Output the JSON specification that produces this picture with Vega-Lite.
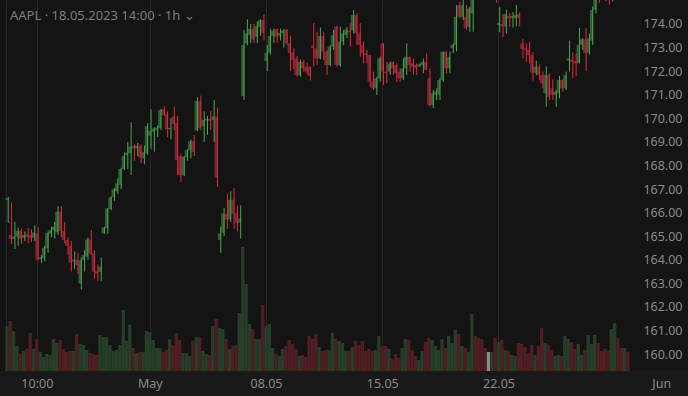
{
  "$schema": "https://vega.github.io/schema/vega-lite/v6.json",
  "width": 688,
  "height": 371,
  "autosize": {"type": "none"},
  "padding": {"left": 0, "top": 0, "right": 0, "bottom": 25},
  "background": "#191919",
  "title": {"text": "AAPL · 18.05.2023 14:00 · 1h ⌄", "anchor": "start", "orient": "top", "offset": -29, "dx": 10, "color": "#7c7c7c", "fontSize": 13, "fontWeight": "normal", "font": "Noto Sans", "baseline": "middle"},
  "config": {"view": {"stroke": null, "fill": "#141414"}, "axis": {"labelOverlap": false}, "axisY": {"labelOverlap": false}},
  "data": {"values": [
    {"k":1,"o":166.53,"h":166.67,"l":165.56,"c":166.62,"v":4.5},
    {"k":2,"o":165.05,"h":166.43,"l":164.67,"c":164.88,"v":5.0},
    {"k":3,"o":164.89,"h":165.61,"l":164.45,"c":164.99,"v":4.0},
    {"k":4,"o":164.98,"h":165.36,"l":164.6,"c":165.22,"v":2.5},
    {"k":5,"o":165.22,"h":165.33,"l":164.67,"c":164.88,"v":1.7},
    {"k":6,"o":164.93,"h":165.2,"l":164.8,"c":165.05,"v":2.0},
    {"k":7,"o":165.08,"h":165.35,"l":164.7,"c":164.96,"v":2.2},
    {"k":8,"o":165.05,"h":165.3,"l":164.75,"c":164.93,"v":3.8},
    {"k":9,"o":164.93,"h":165.45,"l":164.8,"c":165.15,"v":2.2},
    {"k":10,"o":165.12,"h":165.37,"l":163.96,"c":163.99,"v":3.2},
    {"k":11,"o":164.03,"h":164.2,"l":163.85,"c":164.1,"v":1.9},
    {"k":12,"o":164.06,"h":164.6,"l":163.93,"c":164.51,"v":1.4},
    {"k":13,"o":164.48,"h":165.2,"l":164.3,"c":165.14,"v":1.7},
    {"k":14,"o":165.1,"h":165.4,"l":164.95,"c":165.26,"v":1.6},
    {"k":15,"o":165.25,"h":165.6,"l":164.9,"c":165.4,"v":3.2},
    {"k":16,"o":165.16,"h":166.27,"l":165.05,"c":166.04,"v":2.8},
    {"k":17,"o":166.04,"h":166.27,"l":164.95,"c":165.22,"v":3.1},
    {"k":18,"o":165.22,"h":165.6,"l":164.7,"c":164.84,"v":2.2},
    {"k":19,"o":164.84,"h":164.95,"l":164.2,"c":164.59,"v":1.9},
    {"k":20,"o":164.59,"h":164.8,"l":163.5,"c":163.87,"v":2.0},
    {"k":21,"o":163.93,"h":164.35,"l":163.6,"c":164.0,"v":2.0},
    {"k":22,"o":164.0,"h":164.3,"l":163.4,"c":163.77,"v":3.7},
    {"k":23,"o":162.99,"h":164.1,"l":162.74,"c":163.98,"v":2.7},
    {"k":24,"o":163.98,"h":164.4,"l":163.5,"c":164.2,"v":2.6},
    {"k":25,"o":164.13,"h":164.95,"l":164.0,"c":164.86,"v":2.1},
    {"k":26,"o":164.86,"h":165.26,"l":164.2,"c":164.27,"v":1.8},
    {"k":27,"o":164.27,"h":164.4,"l":163.2,"c":163.49,"v":1.7},
    {"k":28,"o":163.52,"h":163.8,"l":163.1,"c":163.42,"v":1.6},
    {"k":29,"o":163.49,"h":164.1,"l":163.1,"c":163.7,"v":3.6},
    {"k":30,"o":165.12,"h":165.4,"l":165.1,"c":165.38,"v":3.4},
    {"k":31,"o":165.33,"h":166.2,"l":165.1,"c":166.18,"v":3.4},
    {"k":32,"o":166.15,"h":166.7,"l":166.1,"c":166.65,"v":2.6},
    {"k":33,"o":166.65,"h":167.05,"l":166.5,"c":166.99,"v":2.0},
    {"k":34,"o":166.9,"h":167.45,"l":166.8,"c":167.24,"v":2.1},
    {"k":35,"o":167.17,"h":167.9,"l":167.0,"c":167.85,"v":2.6},
    {"k":36,"o":167.85,"h":168.55,"l":167.8,"c":168.4,"v":6.1},
    {"k":37,"o":168.44,"h":169.0,"l":167.85,"c":168.54,"v":3.0},
    {"k":38,"o":168.52,"h":169.83,"l":167.59,"c":168.8,"v":4.6},
    {"k":39,"o":168.83,"h":168.9,"l":168.2,"c":168.72,"v":2.3},
    {"k":40,"o":168.72,"h":168.95,"l":168.4,"c":168.83,"v":1.8},
    {"k":41,"o":168.83,"h":168.9,"l":168.1,"c":168.33,"v":1.9},
    {"k":42,"o":168.3,"h":168.85,"l":168.05,"c":168.56,"v":1.9},
    {"k":43,"o":168.51,"h":169.8,"l":168.45,"c":169.67,"v":4.0},
    {"k":44,"o":169.26,"h":170.38,"l":168.7,"c":169.47,"v":3.9},
    {"k":45,"o":169.43,"h":169.62,"l":168.58,"c":169.57,"v":3.1},
    {"k":46,"o":169.5,"h":169.7,"l":169.2,"c":169.6,"v":2.3},
    {"k":47,"o":169.58,"h":170.4,"l":169.5,"c":170.35,"v":2.3},
    {"k":48,"o":170.38,"h":170.5,"l":170.1,"c":170.14,"v":1.9},
    {"k":49,"o":170.17,"h":170.3,"l":169.2,"c":169.53,"v":2.1},
    {"k":50,"o":169.53,"h":170.0,"l":169.1,"c":169.6,"v":3.2},
    {"k":51,"o":170.07,"h":170.5,"l":169.5,"c":169.76,"v":2.6},
    {"k":52,"o":169.8,"h":170.1,"l":167.6,"c":168.23,"v":3.8},
    {"k":53,"o":168.4,"h":168.5,"l":167.3,"c":167.59,"v":3.1},
    {"k":54,"o":167.59,"h":168.4,"l":167.55,"c":168.37,"v":1.8},
    {"k":55,"o":168.35,"h":168.7,"l":168.2,"c":168.65,"v":1.8},
    {"k":56,"o":168.65,"h":169.1,"l":168.3,"c":169.03,"v":1.5},
    {"k":57,"o":169.03,"h":169.3,"l":168.4,"c":168.56,"v":3.0},
    {"k":58,"o":169.49,"h":170.9,"l":169.45,"c":170.74,"v":3.4},
    {"k":59,"o":170.74,"h":170.96,"l":169.5,"c":169.57,"v":3.4},
    {"k":60,"o":169.66,"h":170.3,"l":169.0,"c":169.93,"v":2.0},
    {"k":61,"o":169.9,"h":170.1,"l":169.3,"c":169.98,"v":1.7},
    {"k":62,"o":169.98,"h":170.3,"l":169.5,"c":169.9,"v":1.6},
    {"k":63,"o":169.93,"h":170.78,"l":169.0,"c":170.07,"v":4.5},
    {"k":64,"o":170.07,"h":170.46,"l":167.1,"c":167.49,"v":5.2},
    {"k":65,"o":164.84,"h":165.4,"l":164.29,"c":165.12,"v":4.3},
    {"k":66,"o":165.14,"h":166.2,"l":165.0,"c":165.97,"v":4.2},
    {"k":67,"o":165.95,"h":166.8,"l":165.3,"c":165.7,"v":3.2},
    {"k":68,"o":165.7,"h":166.9,"l":165.6,"c":166.55,"v":2.2},
    {"k":69,"o":166.55,"h":167.04,"l":165.3,"c":165.95,"v":2.5},
    {"k":70,"o":165.97,"h":166.3,"l":165.2,"c":165.57,"v":2.6},
    {"k":71,"o":165.57,"h":166.3,"l":164.9,"c":165.75,"v":5.8},
    {"k":72,"o":170.94,"h":173.75,"l":170.78,"c":173.11,"v":12.4},
    {"k":73,"o":173.18,"h":174.2,"l":173.1,"c":173.6,"v":8.7},
    {"k":74,"o":173.53,"h":174.0,"l":173.2,"c":173.79,"v":4.7},
    {"k":75,"o":173.79,"h":174.0,"l":173.2,"c":173.35,"v":4.2},
    {"k":76,"o":173.46,"h":174.1,"l":173.2,"c":173.9,"v":3.2},
    {"k":77,"o":173.88,"h":174.2,"l":173.5,"c":174.17,"v":3.2},
    {"k":78,"o":174.17,"h":174.4,"l":173.3,"c":173.63,"v":6.6},
    {"k":79,"o":172.43,"h":173.1,"l":172.0,"c":172.78,"v":4.5},
    {"k":80,"o":172.78,"h":173.8,"l":172.7,"c":173.49,"v":4.7},
    {"k":81,"o":173.5,"h":173.8,"l":173.2,"c":173.7,"v":2.3},
    {"k":82,"o":173.78,"h":173.8,"l":173.2,"c":173.46,"v":1.7},
    {"k":83,"o":173.5,"h":173.8,"l":173.3,"c":173.62,"v":1.5},
    {"k":84,"o":173.62,"h":173.78,"l":173.0,"c":173.72,"v":2.2},
    {"k":85,"o":173.77,"h":173.78,"l":173.1,"c":173.18,"v":2.5},
    {"k":86,"o":173.18,"h":173.5,"l":172.0,"c":172.76,"v":3.1},
    {"k":87,"o":172.8,"h":172.97,"l":172.1,"c":172.47,"v":2.7},
    {"k":88,"o":172.54,"h":172.65,"l":171.76,"c":171.83,"v":2.2},
    {"k":89,"o":171.83,"h":172.5,"l":171.76,"c":172.4,"v":1.5},
    {"k":90,"o":172.4,"h":172.47,"l":171.97,"c":172.12,"v":1.6},
    {"k":91,"o":172.2,"h":172.36,"l":171.88,"c":172.0,"v":1.4},
    {"k":92,"o":172.19,"h":172.19,"l":171.6,"c":171.8,"v":3.5},
    {"k":93,"o":173.08,"h":174.04,"l":172.2,"c":172.98,"v":3.2},
    {"k":94,"o":172.97,"h":173.67,"l":172.26,"c":172.54,"v":3.7},
    {"k":95,"o":172.54,"h":173.85,"l":172.5,"c":173.49,"v":2.4},
    {"k":96,"o":173.49,"h":173.67,"l":172.47,"c":172.83,"v":2.0},
    {"k":97,"o":172.83,"h":172.9,"l":171.84,"c":172.26,"v":2.1},
    {"k":98,"o":172.26,"h":173.1,"l":172.2,"c":173.04,"v":2.1},
    {"k":99,"o":173.04,"h":173.75,"l":172.9,"c":173.53,"v":3.8},
    {"k":100,"o":173.89,"h":173.92,"l":172.19,"c":172.26,"v":3.2},
    {"k":101,"o":172.26,"h":173.89,"l":172.19,"c":173.25,"v":3.0},
    {"k":102,"o":173.25,"h":173.75,"l":173.1,"c":173.6,"v":2.8},
    {"k":103,"o":173.53,"h":173.87,"l":173.4,"c":173.77,"v":2.0},
    {"k":104,"o":173.72,"h":174.03,"l":173.04,"c":173.65,"v":2.0},
    {"k":105,"o":173.74,"h":174.6,"l":173.6,"c":174.38,"v":2.4},
    {"k":106,"o":174.38,"h":174.45,"l":173.11,"c":173.6,"v":3.0},
    {"k":107,"o":173.6,"h":174.03,"l":172.61,"c":173.11,"v":2.6},
    {"k":108,"o":173.11,"h":173.25,"l":172.33,"c":172.76,"v":3.0},
    {"k":109,"o":172.76,"h":172.9,"l":172.33,"c":172.68,"v":2.0},
    {"k":110,"o":172.68,"h":172.68,"l":171.34,"c":171.55,"v":2.2},
    {"k":111,"o":171.55,"h":171.98,"l":171.2,"c":171.27,"v":2.0},
    {"k":112,"o":171.27,"h":171.76,"l":170.99,"c":171.69,"v":2.1},
    {"k":113,"o":171.69,"h":172.61,"l":171.55,"c":172.54,"v":3.5},
    {"k":114,"o":173.18,"h":173.18,"l":171.41,"c":171.98,"v":2.5},
    {"k":115,"o":171.98,"h":172.4,"l":171.48,"c":171.91,"v":2.5},
    {"k":116,"o":171.98,"h":172.4,"l":171.84,"c":172.33,"v":2.2},
    {"k":117,"o":172.4,"h":172.4,"l":171.84,"c":172.12,"v":1.2},
    {"k":118,"o":172.26,"h":172.33,"l":171.55,"c":171.91,"v":1.7},
    {"k":119,"o":171.98,"h":172.12,"l":171.55,"c":171.7,"v":1.3},
    {"k":120,"o":171.7,"h":172.54,"l":171.62,"c":172.12,"v":2.3},
    {"k":121,"o":172.12,"h":173.18,"l":171.84,"c":172.61,"v":3.2},
    {"k":122,"o":172.61,"h":172.61,"l":171.98,"c":172.26,"v":3.1},
    {"k":123,"o":172.33,"h":172.54,"l":171.84,"c":172.19,"v":2.1},
    {"k":124,"o":172.26,"h":172.33,"l":171.84,"c":172.12,"v":1.5},
    {"k":125,"o":172.19,"h":172.33,"l":172.19,"c":172.29,"v":1.1},
    {"k":126,"o":172.26,"h":172.54,"l":171.91,"c":172.4,"v":2.0},
    {"k":127,"o":172.4,"h":172.75,"l":172.05,"c":172.05,"v":2.9},
    {"k":128,"o":171.7,"h":172.12,"l":170.49,"c":170.56,"v":3.3},
    {"k":129,"o":170.56,"h":171.2,"l":170.42,"c":171.06,"v":3.1},
    {"k":130,"o":171.0,"h":171.27,"l":170.78,"c":171.13,"v":2.5},
    {"k":131,"o":171.0,"h":171.7,"l":170.78,"c":171.62,"v":2.1},
    {"k":132,"o":171.62,"h":172.83,"l":171.55,"c":172.83,"v":3.2},
    {"k":133,"o":172.83,"h":172.83,"l":171.91,"c":172.12,"v":2.3},
    {"k":134,"o":172.12,"h":172.83,"l":171.91,"c":172.61,"v":3.5},
    {"k":135,"o":172.97,"h":173.18,"l":172.76,"c":173.11,"v":2.8},
    {"k":136,"o":173.11,"h":174.8,"l":172.83,"c":174.31,"v":4.1},
    {"k":137,"o":174.8,"h":174.95,"l":174.24,"c":174.31,"v":3.7},
    {"k":138,"o":174.31,"h":175.02,"l":174.17,"c":174.8,"v":2.5},
    {"k":139,"o":174.31,"h":174.8,"l":173.75,"c":173.82,"v":2.3},
    {"k":140,"o":173.88,"h":174.73,"l":173.67,"c":174.66,"v":1.9},
    {"k":141,"o":174.45,"h":175.6,"l":173.67,"c":175.3,"v":5.7},
    {"k":142,"o":175.6,"h":175.9,"l":175.15,"c":175.3,"v":3.5},
    {"k":143,"o":175.4,"h":175.6,"l":175.1,"c":175.2,"v":3.3},
    {"k":144,"o":175.3,"h":175.5,"l":175.08,"c":175.15,"v":3.2},
    {"k":145,"o":175.25,"h":175.45,"l":175.06,"c":175.12,"v":2.3},
    {"k":146,"o":175.2,"h":175.4,"l":175.1,"c":175.2,"v":1.9},
    {"k":147,"o":175.15,"h":175.5,"l":175.08,"c":175.35,"v":1.9},
    {"k":148,"o":175.4,"h":175.6,"l":174.9,"c":175.1,"v":3.3},
    {"k":149,"o":173.96,"h":174.73,"l":173.65,"c":174.05,"v":2.9},
    {"k":150,"o":174.0,"h":174.42,"l":173.44,"c":173.92,"v":3.1},
    {"k":151,"o":173.89,"h":174.6,"l":173.6,"c":174.42,"v":2.1},
    {"k":152,"o":174.34,"h":174.45,"l":173.88,"c":174.24,"v":2.0},
    {"k":153,"o":174.24,"h":174.5,"l":173.85,"c":174.34,"v":1.6},
    {"k":154,"o":174.24,"h":174.8,"l":173.9,"c":174.38,"v":1.5},
    {"k":155,"o":174.42,"h":174.5,"l":173.9,"c":174.26,"v":2.8},
    {"k":156,"o":173.18,"h":173.35,"l":172.54,"c":172.94,"v":2.7},
    {"k":157,"o":172.97,"h":173.18,"l":172.4,"c":172.9,"v":2.4},
    {"k":158,"o":172.9,"h":173.25,"l":172.33,"c":172.68,"v":1.8},
    {"k":159,"o":172.68,"h":172.8,"l":171.6,"c":171.93,"v":2.6},
    {"k":160,"o":171.93,"h":172.45,"l":171.83,"c":172.19,"v":1.6},
    {"k":161,"o":172.19,"h":172.29,"l":171.62,"c":171.84,"v":2.5},
    {"k":162,"o":171.84,"h":171.98,"l":171.27,"c":171.48,"v":4.3},
    {"k":163,"o":171.06,"h":172.2,"l":170.49,"c":171.84,"v":2.8},
    {"k":164,"o":171.84,"h":171.91,"l":170.77,"c":170.91,"v":2.6},
    {"k":165,"o":171.27,"h":171.65,"l":170.78,"c":170.99,"v":2.1},
    {"k":166,"o":170.99,"h":171.2,"l":170.49,"c":171.13,"v":1.5},
    {"k":167,"o":171.06,"h":171.8,"l":170.85,"c":171.62,"v":1.6},
    {"k":168,"o":171.62,"h":171.65,"l":171.13,"c":171.27,"v":1.5},
    {"k":169,"o":171.27,"h":171.98,"l":171.2,"c":171.84,"v":3.5},
    {"k":170,"o":172.44,"h":173.3,"l":171.98,"c":172.54,"v":3.2},
    {"k":171,"o":172.5,"h":172.8,"l":171.7,"c":172.4,"v":2.9},
    {"k":172,"o":172.43,"h":172.75,"l":171.8,"c":172.33,"v":2.2},
    {"k":173,"o":172.33,"h":173.84,"l":172.33,"c":173.11,"v":2.7},
    {"k":174,"o":173.11,"h":173.4,"l":172.9,"c":173.35,"v":1.6},
    {"k":175,"o":173.35,"h":173.82,"l":172.0,"c":172.76,"v":2.1},
    {"k":176,"o":172.79,"h":173.6,"l":172.7,"c":173.39,"v":3.6},
    {"k":177,"o":173.29,"h":174.74,"l":173.11,"c":174.59,"v":2.7},
    {"k":178,"o":174.59,"h":175.3,"l":174.45,"c":175.1,"v":3.6},
    {"k":179,"o":175.4,"h":175.6,"l":174.9,"c":175.1,"v":2.8},
    {"k":180,"o":175.3,"h":175.5,"l":175.05,"c":175.15,"v":2.0},
    {"k":181,"o":175.35,"h":175.6,"l":174.97,"c":175.2,"v":2.2},
    {"k":182,"o":175.4,"h":175.7,"l":174.82,"c":175.15,"v":2.0},
    {"k":183,"o":175.15,"h":175.6,"l":174.95,"c":175.45,"v":4.2},
    {"k":184,"o":175.45,"h":175.9,"l":175.3,"c":175.8,"v":4.8},
    {"k":185,"o":175.8,"h":176.0,"l":175.4,"c":175.5,"v":3.3},
    {"k":186,"o":175.5,"h":175.7,"l":175.2,"c":175.35,"v":2.3},
    {"k":187,"o":175.35,"h":175.8,"l":175.2,"c":175.6,"v":2.3},
    {"k":188,"o":175.6,"h":175.7,"l":175.25,"c":175.4,"v":1.9}
  ]},
  "encoding": {
    "x": {"field": "k", "type": "quantitative",
      "scale": {"domain": [0.415, 204.57], "nice": false, "zero": false},
      "axis": {"values": [0.7, 10, 44, 79, 114, 149, 198],
        "labelExpr": "datum.value==10?'10:00':datum.value==44?'May':datum.value==79?'08.05':datum.value==114?'15.05':datum.value==149?'22.05':datum.value==198?'Jun':''",
        "grid": true,
        "gridColor": {"condition": {"test": "datum.value==198", "value": "transparent"}, "value": "#262626"},
        "gridWidth": 1, "domain": false, "ticks": false,
        "labelColor": "#8a8a8a", "labelFontSize": 12.5, "labelFont": "Noto Sans", "labelPadding": 6,
        "labelFlush": false, "labelOverlap": false, "title": null}}
  },
  "layer": [
    {
      "mark": {"type": "bar", "width": 3.4, "clip": true},
      "encoding": {
        "y": {"field": "v", "type": "quantitative", "scale": {"domain": [0, 37.1], "nice": false}, "axis": null},
        "color": {"condition": [
          {"test": "datum.c > datum.o", "value": "#263e28"},
          {"test": "datum.c < datum.o", "value": "#4e1e23"}
        ], "value": "#8a8a8a"}
      }
    },
    {
      "layer": [
        {
          "mark": {"type": "bar", "width": 3.2, "clip": true, "minBandSize": 1.5},
          "encoding": {
            "y": {"field": "o", "type": "quantitative",
              "scale": {"domain": [159.28, 175.018], "nice": false, "zero": false},
              "axis": {"orient": "right", "values": [160,161,162,163,164,165,166,167,168,169,170,171,172,173,174],
                "format": ".2f", "labelAlign": "right", "labelPadding": -6, "domain": false, "ticks": false, "grid": false,
                "labelOverlap": false, "labelBound": false, "tickCount": 15,
                "labelColor": "#8a8a8a", "labelFontSize": 12.5, "labelFont": "Noto Sans", "labelBaseline": "middle", "title": null}},
            "y2": {"field": "c"},
            "color": {"condition": [
              {"test": "datum.c > datum.o", "value": "#2f5e33"},
              {"test": "datum.c < datum.o", "value": "#762532"}
            ], "value": "#777777"}
          }
        },
        {
          "mark": {"type": "rule", "xOffset": 1.3, "strokeWidth": 1, "clip": true},
          "encoding": {
            "y": {"field": "l", "type": "quantitative",
              "axis": {"orient": "right", "values": [160,161,162,163,164,165,166,167,168,169,170,171,172,173,174],
                "format": ".2f", "labelAlign": "right", "labelPadding": -6, "domain": false, "ticks": false, "grid": false,
                "labelOverlap": false, "labelBound": false, "tickCount": 15,
                "labelColor": "#8a8a8a", "labelFontSize": 12.5, "labelFont": "Noto Sans", "labelBaseline": "middle", "title": null}},
            "y2": {"field": "h"},
            "color": {"condition": [
              {"test": "datum.c > datum.o", "value": "#4aa850"},
              {"test": "datum.c < datum.o", "value": "#e3283c"}
            ], "value": "#999999"}
          }
        }
      ]
    }
  ],
  "resolve": {"scale": {"y": "independent"}}
}
